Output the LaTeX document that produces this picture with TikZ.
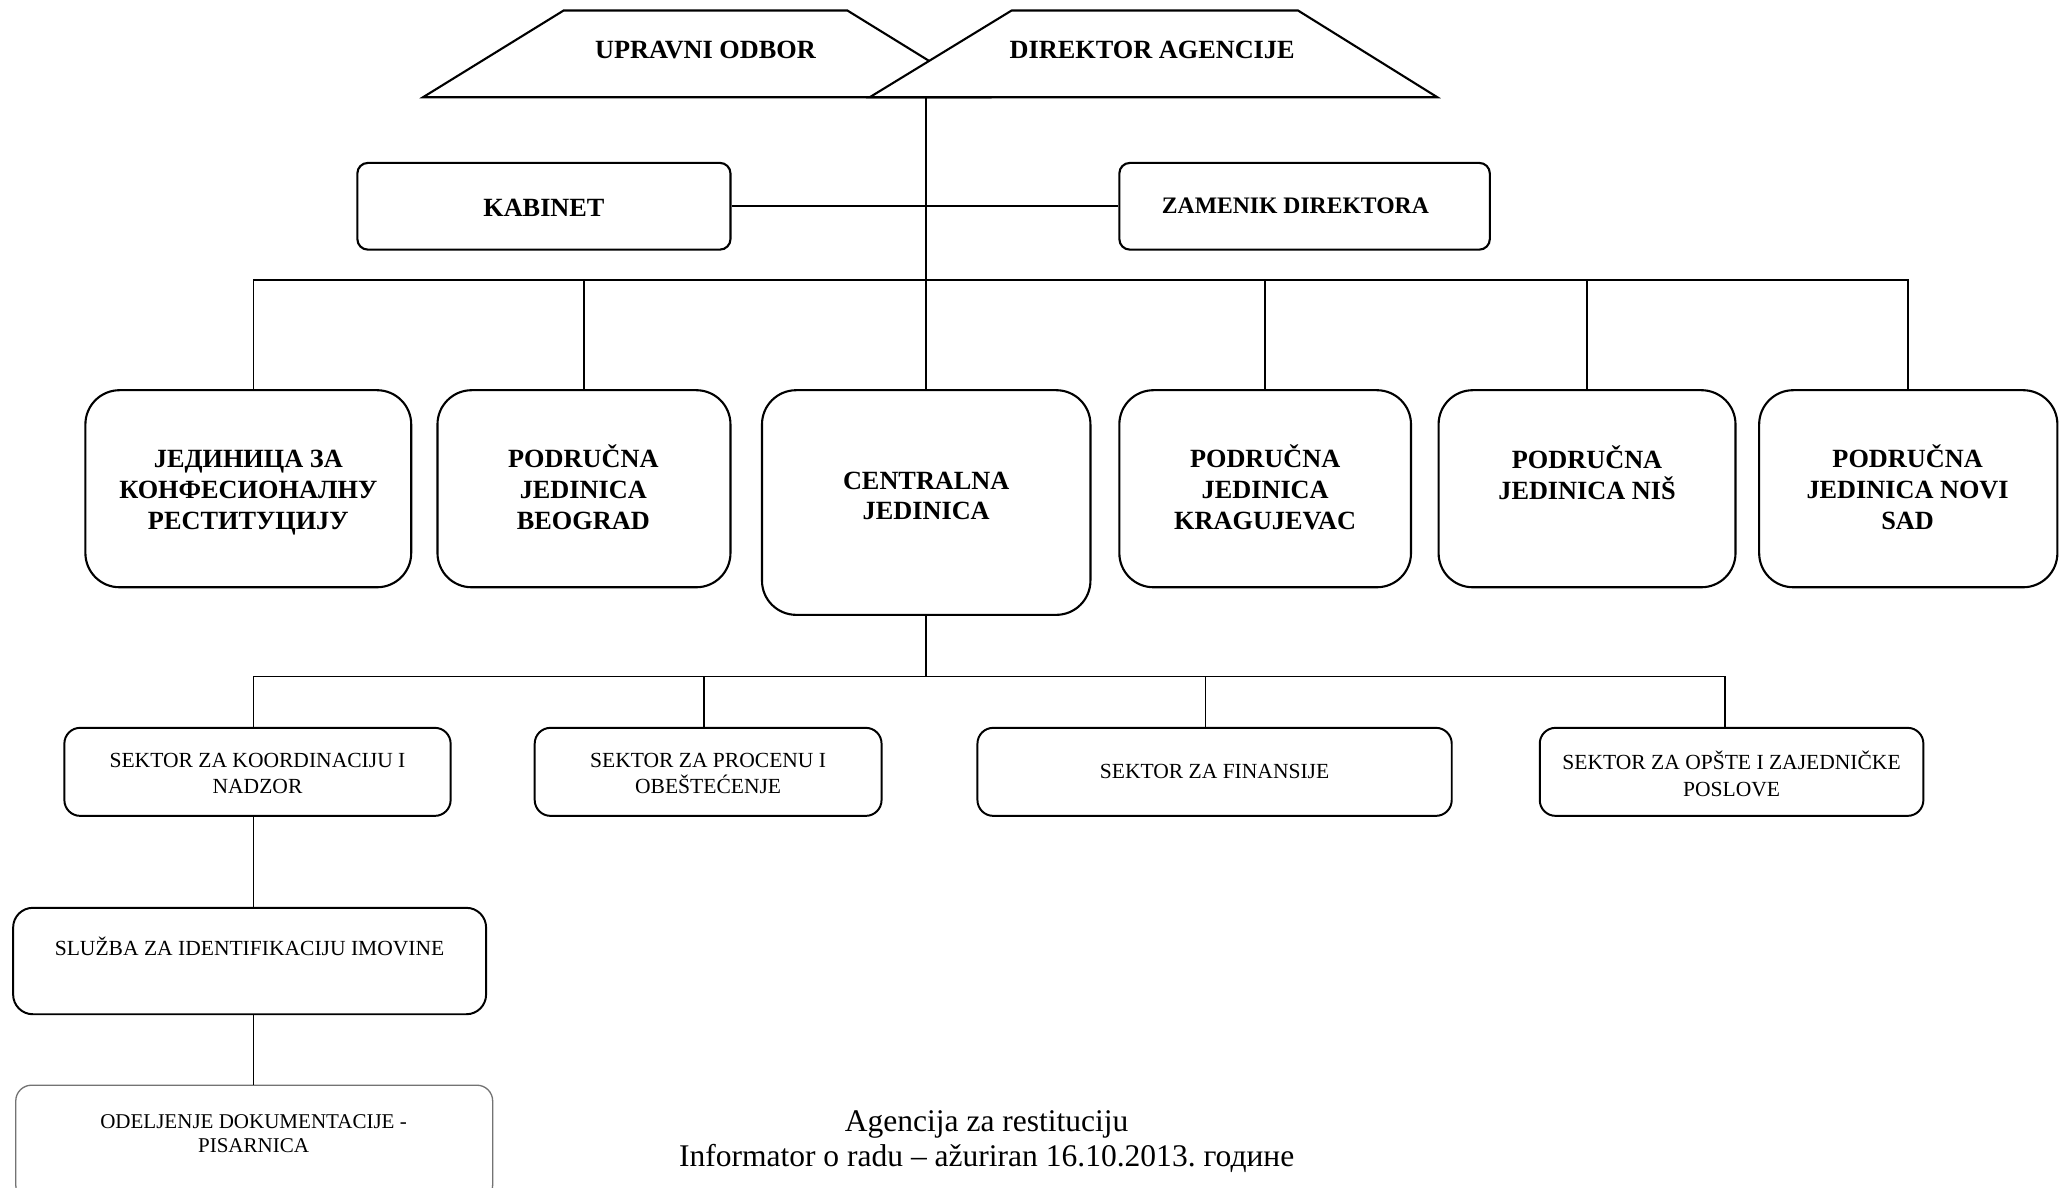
\documentclass[tikz,border=0pt]{standalone}
\usepackage{fontspec}
\setmainfont{Liberation Serif}
\usetikzlibrary{calc}
\frenchspacing
\begin{document}
\begin{tikzpicture}[x=0.5pt,y=-0.5pt,
  conn/.style={line width=0.6pt},
  trap/.style={line width=0.8pt, line join=miter},
  bigbox/.style={draw, line width=0.8pt, rounded corners=13pt, inner sep=0pt, minimum height=75pt},
  midbox/.style={draw, line width=0.8pt, rounded corners=4pt, inner sep=0pt, minimum height=33pt},
  secbox/.style={draw, line width=0.75pt, rounded corners=6pt, inner sep=0pt, minimum height=33.5pt},
  lowbox/.style={draw, line width=0.75pt, rounded corners=7.5pt, inner sep=0pt},
  bigtxt/.style={font=\fontsize{10}{11.75}\selectfont\bfseries, align=center, inner sep=0pt},
  zamtxt/.style={font=\fontsize{9}{11}\selectfont\bfseries, align=center, inner sep=0pt},
  smalltxt/.style={font=\fontsize{8.2}{10}\selectfont, align=center, inner sep=0pt},
  captxt/.style={font=\fontsize{12}{13}\selectfont, align=center, inner sep=0pt}
]
\fill[white] (0,0) rectangle (1568,904);
\clip (0,0) rectangle (1568,904);

% top trapezoids
\draw[trap] (322,74) -- (429,8) -- (645,8) -- (752,74) -- cycle;
\filldraw[trap, fill=white] (662,74) -- (770,8) -- (988,8) -- (1094,74) -- cycle;
\node[bigtxt] (upr) at (537,38) {UPRAVNI ODBOR};
\node[bigtxt] (dir) at (877,38) {DIREKTOR AGENCIJE};
\coordinate (dirb) at (705,74);

% second level
\node[midbox, minimum width=142pt] (kab) at (414,157) {};
\node[bigtxt] (kabt) at (414,158) {KABINET};
\node[midbox, minimum width=141pt] (zam) at (993,157) {};
\node[zamtxt] (zamt) at (986,157) {ZAMENIK DIREKTORA};

% units
\node[bigbox, minimum width=124pt] (j1) at (189,372) {};
\node[bigtxt] (j1t) at (189,375) {ЈЕДИНИЦА ЗА\\КОНФЕСИОНАЛНУ\\РЕСТИТУЦИЈУ};
\node[bigbox, minimum width=111.5pt] (bg) at (444.5,372) {};
\node[bigtxt] (bgt) at (444,371) {PODRUČNA\\JEDINICA\\BEOGRAD};
\node[bigbox, minimum width=125pt, minimum height=85.5pt] (cj) at (705,382.5) {};
\node[bigtxt] (cjt) at (705,377.5) {CENTRALNA\\JEDINICA};
\node[bigbox, minimum width=111pt] (kg) at (963,372) {};
\node[bigtxt] (kgt) at (963,371) {PODRUČNA\\JEDINICA\\KRAGUJEVAC};
\node[bigbox, minimum width=113pt] (nis) at (1208,372) {};
\node[bigtxt] (nist) at (1208,360) {PODRUČNA\\JEDINICA NIŠ};
\node[bigbox, minimum width=113.5pt] (ns) at (1452.5,372) {};
\node[bigtxt] (nst) at (1452,371) {PODRUČNA\\JEDINICA NOVI\\SAD};

% sectors
\node[secbox, minimum width=147pt] (s1) at (196,587.5) {};
\node[smalltxt] (s1t) at (196,589) {SEKTOR ZA KOORDINACIJU I\\NADZOR};
\node[secbox, minimum width=132pt] (s2) at (539,587.5) {};
\node[smalltxt] (s2t) at (539,589) {SEKTOR ZA PROCENU I\\OBEŠTEĆENJE};
\node[secbox, minimum width=180.5pt] (s3) at (924.5,587.5) {};
\node[smalltxt] (s3t) at (924.5,587) {SEKTOR ZA FINANSIJE};
\node[secbox, minimum width=146pt] (s4) at (1318,587.5) {};
\node[smalltxt] (s4t) at (1318,589) {SEKTOR ZA OPŠTE I ZAJEDNIČKE\\POSLOVE};

% lower boxes
\node[lowbox, minimum width=180pt, minimum height=40.5pt] (sl) at (190,731.5) {};
\node[smalltxt] (slt) at (190,720) {SLUŽBA ZA IDENTIFIKACIJU IMOVINE};
\node[lowbox, draw=black!55, line width=0.5pt, rounded corners=6pt, minimum width=181.5pt, minimum height=44pt] (od) at (193.5,870) {};
\node[smalltxt, font=\fontsize{8}{9}\selectfont] (odt) at (193,863) {ODELJENJE DOKUMENTACIJE -\\PISARNICA};

% caption
\node[captxt] (cap) at (751,869) {Agencija za restituciju\\Informator o radu – ažuriran 16.10.2013. године};

% connectors
\coordinate (busA) at (0,213);
\coordinate (busB) at (0,515);
\coordinate (j1d) at ($(j1.north)+(4,0)$);
\coordinate (s1d) at ($(s1.north)+(-3,0)$);
\coordinate (s2d) at ($(s2.north)+(-3,0)$);
\coordinate (s3d) at ($(s3.north)+(-7,0)$);
\coordinate (s4d) at ($(s4.north)+(-5,0)$);
\coordinate (s1b) at ($(s1.south)+(-3,0)$);
\coordinate (slb) at ($(sl.south)+(3,0)$);
\draw[conn] (dirb) -- (cj.north);
\draw[conn] (kab.east) -- (zam.west);
\draw[conn] (j1d) -- (j1d |- busA) -- (ns.north |- busA) -- (ns.north);
\foreach \n in {bg,kg,nis} \draw[conn] (\n.north) -- (\n.north |- busA);
\draw[conn] (cj.south) -- (cj.south |- busB);
\draw[conn] (s1d) -- (s1d |- busB) -- (s4d |- busB) -- (s4d);
\foreach \n in {s2d,s3d} \draw[conn] (\n) -- (\n |- busB);
\draw[conn] (s1b) -- (s1b |- sl.north);
\draw[conn] (slb) -- (slb |- od.north);
\end{tikzpicture}
\end{document}
